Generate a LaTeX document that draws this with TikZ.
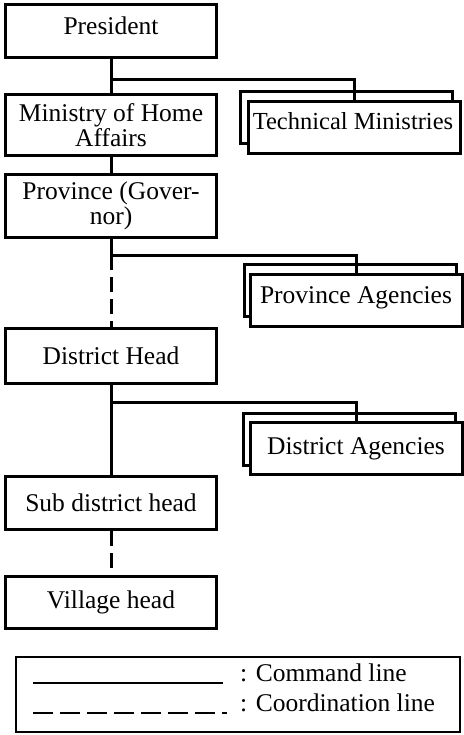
\documentclass[tikz,border=0pt]{standalone}
\usepackage{fontspec}
\setmainfont{Liberation Serif}
\begin{document}
\begin{tikzpicture}[x=1pt,y=-1pt,
  every node/.style={font=\fontsize{25.5}{25}\selectfont, inner sep=0pt},
  mainbox/.style={draw, line width=3pt, fill=white, minimum width=211pt, align=center},
  sidebox/.style={draw, line width=3pt, fill=white, minimum width=212pt, minimum height=52pt},
  conn/.style={line width=3pt, line join=miter},
  coord/.style={conn, dash pattern=on 15pt off 7pt},
  legendbox/.style={draw, line width=1.1pt, minimum width=444pt, minimum height=75pt}]

\useasboundingbox (0,0) rectangle (463,735);

% main chain of command
\node[mainbox, minimum height=53.5pt] (pres) at (111,31.25)
  {\raisebox{5pt}[\height][\depth]{President}};
\node[mainbox, minimum height=61pt] (min) at (111,125) {Ministry of Home\\Affairs};
\node[mainbox, minimum height=63pt] (prov) at (111,206) {Province (Gover-\\nor)};
\node[mainbox, minimum height=55pt] (dist) at (111,356) {District Head};
\node[mainbox, minimum height=53pt] (sub) at (111,503) {Sub district head};
\node[mainbox, minimum height=52pt] (vil) at (111,602.5) {Village head};

% stacked boxes behind the side units
\node[sidebox] (tmb) at (346,118) {};
\node[sidebox] (pab) at (350,290) {};
\node[sidebox] (dab) at (349,439.5) {};

% side units
\node[sidebox, font=\fontsize{24.5}{25}\selectfont] (tmf) at (354.5,127.5)
  {\hspace*{-3pt}\raisebox{6.5pt}[\height][\depth]{Technical Ministries}};
\node[sidebox] (paf) at (356,300.5) {\raisebox{3pt}[\height][\depth]{Province Agencies}};
\node[sidebox] (daf) at (356,448.5) {District Agencies};

% junction points on the trunk
\coordinate (j1) at (111,80);
\coordinate (j2) at (111,255);
\coordinate (j3) at (111,402);

% command lines
\draw[conn] (pres.south) -- (min.north);
\draw[conn] (min.south) -- (prov.north);
\draw[conn] (prov.south) -- (j2);
\draw[conn] (dist.south) -- (sub.north);

% coordination lines
\draw[coord] (j2) -- (dist.north);
\draw[coord] (sub.south) -- (vil.north);

% branches to the side units
\draw[conn] (j1) -| (tmf.north);
\draw[conn] (j2) -| (paf.north);
\draw[conn] (j3) -| (daf.north);

% legend
\node[legendbox] (leg) at (238,694.5) {};
\coordinate (c1a) at (33,683);
\coordinate (c1b) at (223,683);
\coordinate (c2a) at (33,713);
\coordinate (c2b) at (227,713);
\draw[line width=1.6pt] (c1a) -- (c1b);
\draw[line width=2pt, dash pattern=on 20pt off 7pt] (c2a) -- (c2b);
\node[anchor=base west] (lc) at (240,681) {: Command line};
\node[anchor=base west] (lk) at (240,711) {: Coordination line};
\end{tikzpicture}
\end{document}
